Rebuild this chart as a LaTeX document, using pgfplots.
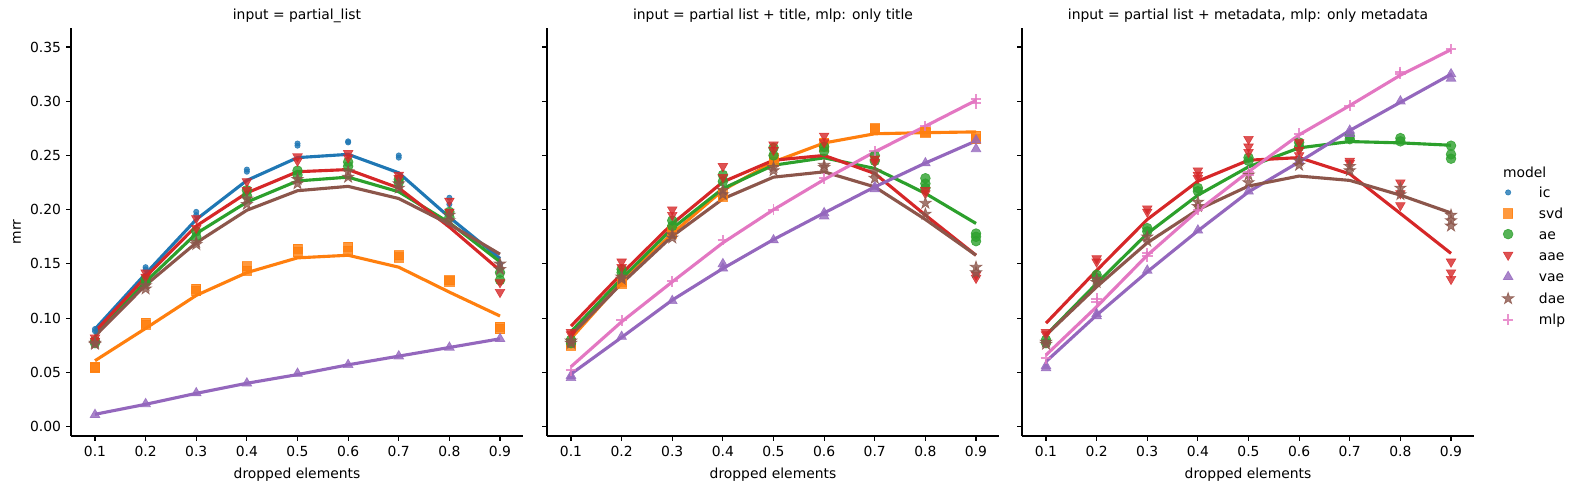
\documentclass[border=0pt]{standalone}
\usepackage{fontspec}
\setmainfont{DejaVu Sans}
\usepackage{pgfplots}
\pgfplotsset{compat=1.18}
\usetikzlibrary{plotmarks}
\definecolor{cic}{HTML}{1F77B4}
\definecolor{csvd}{HTML}{FF7F0E}
\definecolor{cae}{HTML}{2CA02C}
\definecolor{caae}{HTML}{D62728}
\definecolor{cvae}{HTML}{9467BD}
\definecolor{cdae}{HTML}{8C564B}
\definecolor{cmlp}{HTML}{E377C2}
\pgfdeclareplotmark{fstar}{%
  \pgfpathmoveto{\pgfpointpolar{90}{\pgfplotmarksize}}%
  \pgfpathlineto{\pgfpointpolar{126}{0.382\pgfplotmarksize}}%
  \pgfpathlineto{\pgfpointpolar{162}{\pgfplotmarksize}}%
  \pgfpathlineto{\pgfpointpolar{198}{0.382\pgfplotmarksize}}%
  \pgfpathlineto{\pgfpointpolar{234}{\pgfplotmarksize}}%
  \pgfpathlineto{\pgfpointpolar{270}{0.382\pgfplotmarksize}}%
  \pgfpathlineto{\pgfpointpolar{306}{\pgfplotmarksize}}%
  \pgfpathlineto{\pgfpointpolar{342}{0.382\pgfplotmarksize}}%
  \pgfpathlineto{\pgfpointpolar{18}{\pgfplotmarksize}}%
  \pgfpathlineto{\pgfpointpolar{54}{0.382\pgfplotmarksize}}%
  \pgfpathclose\pgfusepathqfillstroke}
\pgfplotsset{
  panel/.style={
    scale only axis, width=325.44pt, height=293.76pt, anchor=south west,
    xmin=0.0526, xmax=0.9454, ymin=-0.0086, ymax=0.3675,
    axis lines*=left, tick align=outside, major tick length=3.5pt,
    every tick/.style={black, line width=0.8pt},
    axis line style={line width=0.8pt, black},
    xtick={0.1,0.2,0.3,0.4,0.5,0.6,0.7,0.8,0.9},
    xticklabels={0.1,0.2,0.3,0.4,0.5,0.6,0.7,0.8,0.9},
    ytick={0,0.05,0.1,0.15,0.2,0.25,0.3,0.35},
    yticklabels={0.00,0.05,0.10,0.15,0.20,0.25,0.30,0.35},
    xticklabel style={inner sep=0pt, anchor=north, yshift=-3.5pt},
    yticklabel style={inner sep=0pt, anchor=east, xshift=-3.5pt},
    xlabel={dropped elements},
    xlabel style={at={(axis description cs:0.5,-0.096)}, anchor=center, inner sep=0pt},
    title style={at={(axis description cs:0.5,1)}, anchor=base, inner sep=0pt},
    clip=false,
  },
  sc/.style={only marks, opacity=0.8, mark options={solid, line width=0.5pt}},
  ln/.style={no marks, line width=2.25pt},
  mic/.style={color=cic, mark=*, mark size=1.9pt},
  msvd/.style={color=csvd, mark=square*, mark size=3.3pt},
  mae/.style={color=cae, mark=*, mark size=3.5pt},
  maae/.style={color=caae, mark=triangle*, mark size=4pt, mark options={rotate=180}},
  mvae/.style={color=cvae, mark=triangle*, mark size=4pt},
  mdae/.style={color=cdae, mark=fstar, mark size=4.4pt},
  mmlp/.style={color=cmlp, mark=+, mark size=3.8pt, mark options={line width=1.4pt}},
}
\begin{document}
\begin{tikzpicture}
\useasboundingbox (0,0) rectangle (1130.4pt,352.08pt);
% ---------------- Panel 1 ----------------
\begin{axis}[panel, at={(51.12pt,38.16pt)}, title={input = partial\_list},
  ylabel={mrr}, ylabel style={at={(axis description cs:-0.1195,0.5)}, anchor=center, inner sep=0pt}]
\addplot[sc, mic] coordinates {(0.1,0.090)(0.1,0.088)(0.2,0.147)(0.2,0.145)(0.3,0.198)(0.3,0.195)(0.4,0.237)(0.4,0.235)(0.5,0.261)(0.5,0.259)(0.6,0.263)(0.6,0.262)(0.7,0.250)(0.7,0.248)(0.8,0.211)(0.8,0.205)(0.9,0.150)(0.9,0.146)};
\addplot[ln, color=cic] coordinates {(0.1,0.090)(0.2,0.141)(0.3,0.191)(0.4,0.227)(0.5,0.248)(0.6,0.251)(0.7,0.234)(0.8,0.193)(0.9,0.155)};
\addplot[sc, msvd] coordinates {(0.1,0.055)(0.1,0.054)(0.2,0.096)(0.2,0.094)(0.3,0.127)(0.3,0.125)(0.4,0.148)(0.4,0.144)(0.5,0.164)(0.5,0.161)(0.6,0.166)(0.6,0.162)(0.7,0.158)(0.7,0.156)(0.8,0.135)(0.8,0.134)(0.9,0.092)(0.9,0.090)};
\addplot[ln, color=csvd] coordinates {(0.1,0.0608)(0.2,0.0906)(0.3,0.121)(0.4,0.142)(0.5,0.1556)(0.6,0.158)(0.7,0.147)(0.8,0.124)(0.9,0.102)};
\addplot[sc, mae] coordinates {(0.1,0.079)(0.1,0.077)(0.2,0.136)(0.2,0.133)(0.3,0.180)(0.3,0.175)(0.4,0.218)(0.4,0.213)(0.5,0.236)(0.5,0.232)(0.6,0.244)(0.6,0.240)(0.7,0.228)(0.7,0.225)(0.8,0.198)(0.8,0.193)(0.9,0.142)(0.9,0.135)};
\addplot[ln, color=cae] coordinates {(0.1,0.0853)(0.2,0.1335)(0.3,0.178)(0.4,0.207)(0.5,0.2265)(0.6,0.230)(0.7,0.2165)(0.8,0.188)(0.9,0.152)};
\addplot[sc, maae] coordinates {(0.1,0.082)(0.1,0.079)(0.2,0.142)(0.2,0.138)(0.3,0.192)(0.3,0.183)(0.4,0.226)(0.4,0.218)(0.5,0.249)(0.5,0.245)(0.6,0.252)(0.6,0.248)(0.7,0.232)(0.7,0.229)(0.8,0.208)(0.8,0.198)(0.9,0.133)(0.9,0.124)};
\addplot[ln, color=caae] coordinates {(0.1,0.0875)(0.2,0.138)(0.3,0.185)(0.4,0.2155)(0.5,0.235)(0.6,0.237)(0.7,0.220)(0.8,0.184)(0.9,0.144)};
\addplot[sc, mvae] coordinates {(0.1,0.011)(0.2,0.021)(0.3,0.031)(0.4,0.040)(0.5,0.049)(0.6,0.057)(0.7,0.065)(0.8,0.073)(0.9,0.081)};
\addplot[ln, color=cvae] coordinates {(0.1,0.0114)(0.2,0.0206)(0.3,0.0307)(0.4,0.040)(0.5,0.048)(0.6,0.057)(0.7,0.065)(0.8,0.073)(0.9,0.081)};
\addplot[sc, mdae] coordinates {(0.1,0.077)(0.1,0.076)(0.2,0.130)(0.2,0.127)(0.3,0.170)(0.3,0.168)(0.4,0.210)(0.4,0.205)(0.5,0.228)(0.5,0.224)(0.6,0.235)(0.6,0.230)(0.7,0.224)(0.7,0.220)(0.8,0.195)(0.8,0.190)(0.9,0.150)(0.9,0.145)};
\addplot[ln, color=cdae] coordinates {(0.1,0.0835)(0.2,0.1305)(0.3,0.1695)(0.4,0.1995)(0.5,0.2175)(0.6,0.2215)(0.7,0.2103)(0.8,0.1866)(0.9,0.159)};
\end{axis}
% ---------------- Panel 2 ----------------
\begin{axis}[panel, at={(393.84pt,38.16pt)}, title={input = partial list + title, mlp: only title}, yticklabels={}]
\addplot[sc, msvd] coordinates {(0.1,0.075)(0.1,0.077)(0.2,0.134)(0.2,0.132)(0.3,0.181)(0.3,0.178)(0.4,0.215)(0.4,0.212)(0.5,0.248)(0.5,0.244)(0.6,0.262)(0.6,0.258)(0.7,0.275)(0.7,0.274)(0.8,0.272)(0.8,0.271)(0.9,0.268)(0.9,0.265)};
\addplot[ln, color=csvd] coordinates {(0.1,0.0813)(0.2,0.1335)(0.3,0.178)(0.4,0.218)(0.5,0.244)(0.6,0.2615)(0.7,0.270)(0.8,0.271)(0.9,0.2717)};
\addplot[sc, mae] coordinates {(0.1,0.080)(0.1,0.077)(0.2,0.145)(0.2,0.142)(0.3,0.190)(0.3,0.185)(0.4,0.232)(0.4,0.226)(0.5,0.257)(0.5,0.250)(0.6,0.258)(0.6,0.254)(0.7,0.250)(0.7,0.245)(0.8,0.229)(0.8,0.224)(0.8,0.220)(0.9,0.178)(0.9,0.175)(0.9,0.171)};
\addplot[ln, color=cae] coordinates {(0.1,0.0875)(0.2,0.1366)(0.3,0.1827)(0.4,0.2195)(0.5,0.241)(0.6,0.2478)(0.7,0.238)(0.8,0.215)(0.9,0.1873)};
\addplot[sc, maae] coordinates {(0.1,0.087)(0.1,0.085)(0.2,0.152)(0.2,0.147)(0.3,0.200)(0.3,0.195)(0.4,0.240)(0.4,0.230)(0.5,0.260)(0.5,0.255)(0.6,0.268)(0.6,0.262)(0.7,0.247)(0.7,0.244)(0.8,0.218)(0.8,0.215)(0.9,0.140)(0.9,0.137)};
\addplot[ln, color=caae] coordinates {(0.1,0.0927)(0.2,0.141)(0.3,0.187)(0.4,0.2256)(0.5,0.2456)(0.6,0.250)(0.7,0.2334)(0.8,0.195)(0.9,0.158)};
\addplot[sc, mvae] coordinates {(0.1,0.045)(0.1,0.047)(0.2,0.083)(0.3,0.116)(0.4,0.150)(0.4,0.146)(0.5,0.172)(0.6,0.197)(0.6,0.194)(0.7,0.221)(0.7,0.219)(0.8,0.243)(0.9,0.264)(0.9,0.256)};
\addplot[ln, color=cvae] coordinates {(0.1,0.0485)(0.2,0.0823)(0.3,0.1167)(0.4,0.1458)(0.5,0.1725)(0.6,0.197)(0.7,0.221)(0.8,0.243)(0.9,0.2634)};
\addplot[sc, mdae] coordinates {(0.1,0.079)(0.1,0.077)(0.2,0.138)(0.2,0.136)(0.3,0.177)(0.3,0.174)(0.4,0.218)(0.4,0.214)(0.5,0.239)(0.5,0.236)(0.6,0.241)(0.6,0.239)(0.7,0.235)(0.7,0.229)(0.8,0.206)(0.8,0.196)(0.9,0.147)(0.9,0.142)};
\addplot[ln, color=cdae] coordinates {(0.1,0.0844)(0.2,0.132)(0.3,0.1756)(0.4,0.210)(0.5,0.230)(0.6,0.2349)(0.7,0.221)(0.8,0.191)(0.9,0.158)};
\addplot[sc, mmlp] coordinates {(0.1,0.052)(0.2,0.098)(0.3,0.134)(0.4,0.172)(0.5,0.200)(0.6,0.229)(0.7,0.254)(0.8,0.277)(0.9,0.302)(0.9,0.298)};
\addplot[ln, color=cmlp] coordinates {(0.1,0.0553)(0.2,0.0967)(0.3,0.1335)(0.4,0.1695)(0.5,0.200)(0.6,0.2278)(0.7,0.2533)(0.8,0.277)(0.9,0.3008)};
\end{axis}
% ---------------- Panel 3 ----------------
\begin{axis}[panel, at={(735.84pt,38.16pt)}, title={input = partial list + metadata, mlp: only metadata}, yticklabels={},
  legend style={at={(axis description cs:1.062,0.610)}, anchor=north west, draw=none, fill=none, inner sep=0pt,
    row sep=7.7pt, column sep=18pt, nodes={inner sep=0pt, text height=7.3pt, text depth=0pt}},
  legend cell align=left,
  legend image code/.code={\draw[#1] plot coordinates {(0pt,0pt)}; \path[draw=none, fill=none] (-3.65pt,-3.65pt) rectangle (3.65pt,3.65pt);}]
\addlegendimage{sc, mic}
\addlegendimage{sc, msvd}
\addlegendimage{sc, mae}
\addlegendimage{sc, maae}
\addlegendimage{sc, mvae}
\addlegendimage{sc, mdae}
\addlegendimage{sc, mmlp}
\legend{ic,svd,ae,aae,vae,dae,mlp}
\addplot[sc, mae] coordinates {(0.1,0.080)(0.1,0.077)(0.2,0.140)(0.2,0.137)(0.3,0.183)(0.3,0.180)(0.4,0.220)(0.4,0.217)(0.5,0.248)(0.5,0.245)(0.6,0.262)(0.6,0.258)(0.7,0.265)(0.7,0.268)(0.8,0.266)(0.8,0.263)(0.9,0.259)(0.9,0.251)(0.9,0.247)};
\addplot[ln, color=cae] coordinates {(0.1,0.0844)(0.2,0.132)(0.3,0.178)(0.4,0.2134)(0.5,0.2395)(0.6,0.257)(0.7,0.2628)(0.8,0.2616)(0.9,0.2594)};
\addplot[sc, maae] coordinates {(0.1,0.087)(0.1,0.085)(0.2,0.155)(0.2,0.152)(0.3,0.201)(0.3,0.198)(0.4,0.236)(0.4,0.232)(0.4,0.229)(0.5,0.265)(0.5,0.258)(0.5,0.253)(0.6,0.262)(0.6,0.255)(0.6,0.250)(0.7,0.245)(0.7,0.243)(0.8,0.225)(0.8,0.215)(0.8,0.204)(0.9,0.152)(0.9,0.142)(0.9,0.136)};
\addplot[ln, color=caae] coordinates {(0.1,0.0954)(0.2,0.144)(0.3,0.191)(0.4,0.2263)(0.5,0.2456)(0.6,0.248)(0.7,0.233)(0.8,0.1965)(0.9,0.1597)};
\addplot[sc, mvae] coordinates {(0.1,0.056)(0.1,0.054)(0.2,0.102)(0.2,0.104)(0.3,0.144)(0.4,0.181)(0.5,0.217)(0.6,0.245)(0.7,0.273)(0.7,0.270)(0.8,0.300)(0.9,0.325)(0.9,0.321)};
\addplot[ln, color=cvae] coordinates {(0.1,0.060)(0.2,0.1028)(0.3,0.1427)(0.4,0.1805)(0.5,0.2164)(0.6,0.244)(0.7,0.273)(0.8,0.299)(0.9,0.3248)};
\addplot[sc, mdae] coordinates {(0.1,0.078)(0.1,0.076)(0.2,0.136)(0.2,0.133)(0.3,0.175)(0.3,0.171)(0.4,0.207)(0.4,0.203)(0.5,0.232)(0.5,0.225)(0.6,0.245)(0.6,0.241)(0.7,0.240)(0.7,0.236)(0.8,0.220)(0.8,0.214)(0.9,0.195)(0.9,0.190)(0.9,0.185)};
\addplot[ln, color=cdae] coordinates {(0.1,0.0844)(0.2,0.1289)(0.3,0.1695)(0.4,0.200)(0.5,0.2218)(0.6,0.231)(0.7,0.227)(0.8,0.2134)(0.9,0.197)};
\addplot[sc, mmlp] coordinates {(0.1,0.063)(0.2,0.118)(0.2,0.115)(0.3,0.160)(0.3,0.157)(0.4,0.200)(0.5,0.235)(0.5,0.232)(0.6,0.270)(0.7,0.296)(0.8,0.325)(0.8,0.327)(0.9,0.348)};
\addplot[ln, color=cmlp] coordinates {(0.1,0.066)(0.2,0.1105)(0.3,0.158)(0.4,0.199)(0.5,0.235)(0.6,0.269)(0.7,0.296)(0.8,0.324)(0.9,0.3475)};
\node[anchor=center, inner sep=0pt] at (axis description cs:1.112,0.647) {model};
\end{axis}
\end{tikzpicture}
\end{document}
